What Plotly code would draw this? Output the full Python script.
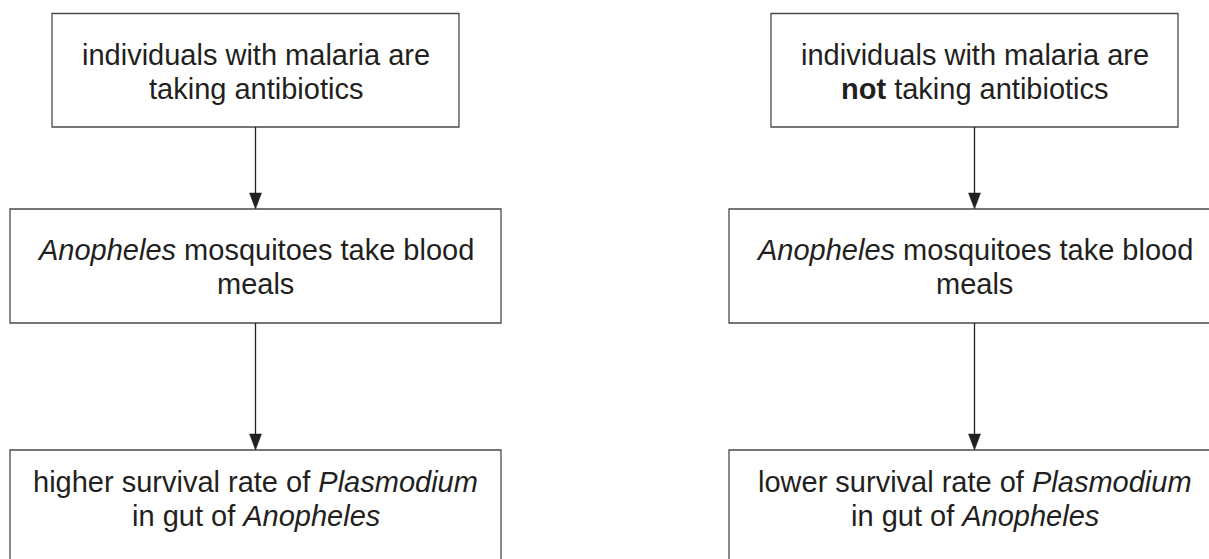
import plotly.graph_objects as go

# ---- content ----
left_lines = [
    ["individuals with malaria are", "taking antibiotics"],
    ["<i>Anopheles</i> mosquitoes take blood", "meals"],
    ["higher survival rate of <i>Plasmodium</i>", "in gut of <i>Anopheles</i>"],
]
right_lines = [
    ["individuals with malaria are", "<b>not</b> taking antibiotics"],
    ["<i>Anopheles</i> mosquitoes take blood", "meals"],
    ["lower survival rate of <i>Plasmodium</i>", "in gut of <i>Anopheles</i>"],
]

# ---- layout geometry (pixel coordinates, y downward) ----
W, H = 1209, 559
col_centers = [255.5, 974.5]
box_widths = [407, 491, 491]
box_tops = [13.5, 209, 450]
box_bottoms = [127, 323, 564]
baselines = [(65, 98.5), (260, 294), (491.5, 526)]
FONT_SIZE = 29
TEXT_COLOR = "#231f20"
BOX_COLOR = "#4a4a4a"
ARROW_COLOR = "#231f20"

fig = go.Figure()
shapes = []
annotations = []

for cx, lines_col in zip(col_centers, [left_lines, right_lines]):
    for i, lines in enumerate(lines_col):
        w = box_widths[i]
        shapes.append(dict(type="rect", xref="x", yref="y",
                           x0=cx - w / 2, x1=cx + w / 2,
                           y0=box_tops[i], y1=box_bottoms[i],
                           line=dict(color=BOX_COLOR, width=1.3),
                           fillcolor="rgba(0,0,0,0)", layer="above"))
        for txt, bl in zip(lines, baselines[i]):
            annotations.append(dict(x=cx, y=bl - 10, xref="x", yref="y",
                                    text=txt, showarrow=False,
                                    xanchor="center", yanchor="middle",
                                    font=dict(family="Liberation Sans, Arial, sans-serif",
                                              size=FONT_SIZE, color=TEXT_COLOR)))
    # arrows between boxes
    for i in range(2):
        y0 = box_bottoms[i]
        y1 = box_tops[i + 1]
        head_h, head_w = 16, 12
        shapes.append(dict(type="line", xref="x", yref="y",
                           x0=cx, x1=cx, y0=y0, y1=y1 - head_h + 1,
                           line=dict(color=ARROW_COLOR, width=1.3)))
        path = (f"M {cx - head_w/2} {y1 - head_h} L {cx + head_w/2} {y1 - head_h} "
                f"L {cx} {y1} Z")
        shapes.append(dict(type="path", xref="x", yref="y", path=path,
                           fillcolor=ARROW_COLOR, line=dict(color=ARROW_COLOR, width=0.5)))

fig.update_layout(
    width=W, height=H,
    margin=dict(l=0, r=0, t=0, b=0),
    paper_bgcolor="white", plot_bgcolor="white",
    shapes=shapes, annotations=annotations,
    showlegend=False,
)
fig.update_xaxes(visible=False, range=[0, W], fixedrange=True)
fig.update_yaxes(visible=False, range=[H, 0], fixedrange=True)

fig.write_html("out.html", config={"displayModeBar": False})

# remove default page margin so the figure fills the window exactly
with open("out.html", "r", encoding="utf-8") as f:
    html = f.read()
html = html.replace("<body>", '<body style="margin:0;padding:0;overflow:hidden">', 1)
with open("out.html", "w", encoding="utf-8") as f:
    f.write(html)
